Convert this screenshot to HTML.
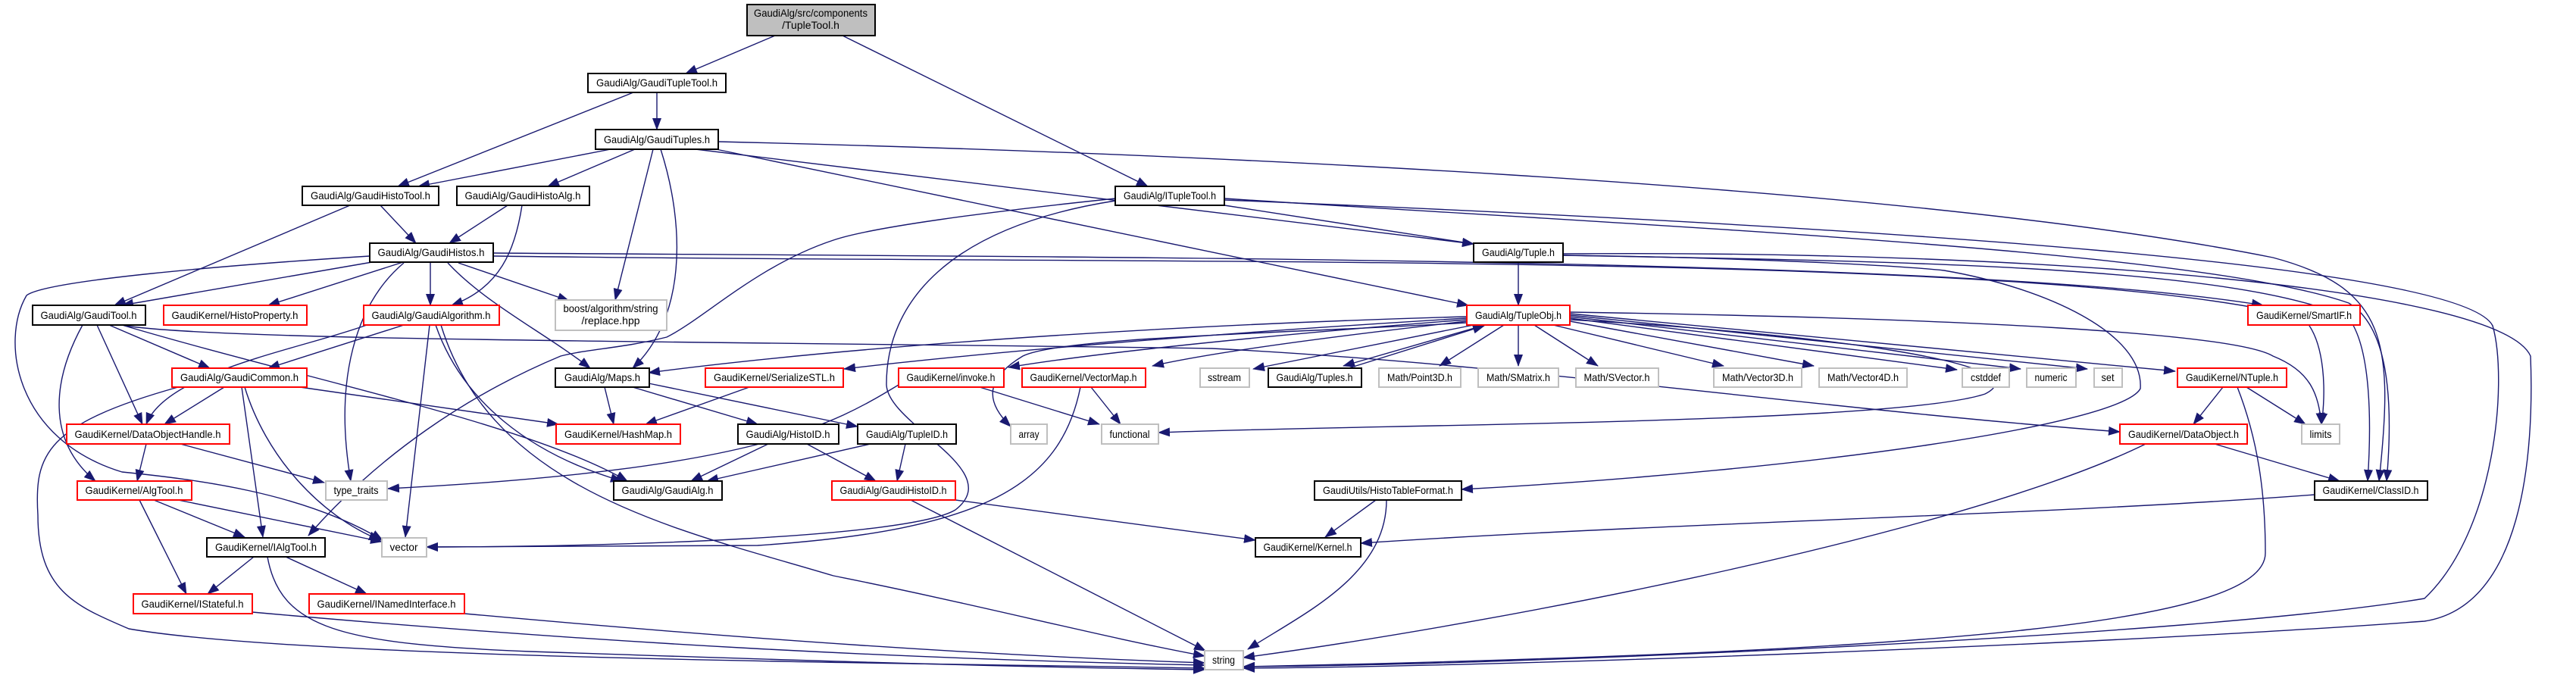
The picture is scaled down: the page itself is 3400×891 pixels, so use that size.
<!DOCTYPE html>
<html><head><meta charset="utf-8"><style>
html,body{margin:0;padding:0;background:#fff;}
svg{display:block;}
text{font-family:"Liberation Sans",sans-serif;font-size:14px;fill:#000;}
.b{fill:#fff;stroke:#000;stroke-width:2;}
.r{fill:#fff;stroke:#ff0000;stroke-width:2;}
.g{fill:#fff;stroke:#bfbfbf;stroke-width:2;}
.e{fill:none;stroke:#191970;stroke-width:1.4;}
</style></head><body>
<svg width="3400" height="891" viewBox="0 0 3400 891" xmlns="http://www.w3.org/2000/svg">
<defs><marker id="a" markerWidth="16" markerHeight="12" refX="15" refY="6" orient="auto" markerUnits="userSpaceOnUse"><path d="M0,0 L16,6 L0,12 z" fill="#191970"/></marker></defs>
<g class="edges">
<path class="e" d="M1023,47 L905,97" marker-end="url(#a)"/>
<path class="e" d="M1112,47 L1515,246" marker-end="url(#a)"/>
<path class="e" d="M836,122 L525,246" marker-end="url(#a)"/>
<path class="e" d="M867,122 L867,171" marker-end="url(#a)"/>
<path class="e" d="M806,197 L552,246" marker-end="url(#a)"/>
<path class="e" d="M838,197 L723,246" marker-end="url(#a)"/>
<path class="e" d="M862,197 L812,396" marker-end="url(#a)"/>
<path class="e" d="M872,197 C905,300 905,420 835,486" marker-end="url(#a)"/>
<path class="e" d="M948,187 C1500,200 2500,240 3000,340 C3150,380 3160,450 3140,635" marker-end="url(#a)"/>
<path class="e" d="M918,197 L1945,322" marker-end="url(#a)"/>
<path class="e" d="M945,197 L1938,403" marker-end="url(#a)"/>
<path class="e" d="M502,271 L549,321" marker-end="url(#a)"/>
<path class="e" d="M462,271 L151,403" marker-end="url(#a)"/>
<path class="e" d="M670,271 L593,321" marker-end="url(#a)"/>
<path class="e" d="M689,271 C680,330 660,380 596,403" marker-end="url(#a)"/>
<path class="e" d="M491,346 L161,403" marker-end="url(#a)"/>
<path class="e" d="M532,346 L354,403" marker-end="url(#a)"/>
<path class="e" d="M568,346 L568,403" marker-end="url(#a)"/>
<path class="e" d="M605,347 L751,397" marker-end="url(#a)"/>
<path class="e" d="M591,347 C640,400 720,440 779,486" marker-end="url(#a)"/>
<path class="e" d="M533,347 C470,400 440,500 463,635" marker-end="url(#a)"/>
<path class="e" d="M488,338 C300,350 60,370 35,390 C0,450 20,580 161,623 C260,633 400,650 505,713" marker-end="url(#a)"/>
<path class="e" d="M651,334 C1500,340 2600,340 2987,403" marker-end="url(#a)"/>
<path class="e" d="M651,338 C1500,350 2700,330 3040,420 C3070,450 3070,520 3064,560" marker-end="url(#a)"/>
<path class="e" d="M144,429 L277,486" marker-end="url(#a)"/>
<path class="e" d="M128,429 L188,560" marker-end="url(#a)"/>
<path class="e" d="M109,429 C70,500 60,580 126,635" marker-end="url(#a)"/>
<path class="e" d="M161,429 C400,500 700,560 828,635" marker-end="url(#a)"/>
<path class="e" d="M165,430 C300,450 900,450 1600,460 C2000,480 2400,540 2798,570" marker-end="url(#a)"/>
<path class="e" d="M533,429 L354,486" marker-end="url(#a)"/>
<path class="e" d="M484,429 C400,460 220,490 193,560" marker-end="url(#a)"/>
<path class="e" d="M567,429 L535,709" marker-end="url(#a)"/>
<path class="e" d="M575,429 C610,530 700,600 821,635" marker-end="url(#a)"/>
<path class="e" d="M582,429 C650,650 900,700 1100,760 C1300,800 1450,840 1590,866" marker-end="url(#a)"/>
<path class="e" d="M296,511 L217,560" marker-end="url(#a)"/>
<path class="e" d="M396,511 L737,560" marker-end="url(#a)"/>
<path class="e" d="M319,511 L347,709" marker-end="url(#a)"/>
<path class="e" d="M323,511 C350,600 420,680 502,713" marker-end="url(#a)"/>
<path class="e" d="M235,511 C60,560 45,600 50,680 C50,780 100,800 170,830 C400,870 1200,875 1590,882" marker-end="url(#a)"/>
<path class="e" d="M193,586 L181,635" marker-end="url(#a)"/>
<path class="e" d="M238,586 L428,637" marker-end="url(#a)"/>
<path class="e" d="M203,660 L323,709" marker-end="url(#a)"/>
<path class="e" d="M184,660 L246,784" marker-end="url(#a)"/>
<path class="e" d="M235,660 L504,715" marker-end="url(#a)"/>
<path class="e" d="M335,735 L274,784" marker-end="url(#a)"/>
<path class="e" d="M377,735 L484,784" marker-end="url(#a)"/>
<path class="e" d="M353,735 C370,830 450,850 700,860 C1000,870 1300,880 1590,884" marker-end="url(#a)"/>
<path class="e" d="M333,808 C800,850 1200,870 1590,878" marker-end="url(#a)"/>
<path class="e" d="M613,810 C1000,845 1300,865 1590,875" marker-end="url(#a)"/>
<path class="e" d="M798,511 L810,560" marker-end="url(#a)"/>
<path class="e" d="M835,511 L1000,560" marker-end="url(#a)"/>
<path class="e" d="M856,506 L1132,563" marker-end="url(#a)"/>
<path class="e" d="M989,511 L852,560" marker-end="url(#a)"/>
<path class="e" d="M1014,586 L912,635" marker-end="url(#a)"/>
<path class="e" d="M1065,586 L1156,635" marker-end="url(#a)"/>
<path class="e" d="M1149,586 L933,635" marker-end="url(#a)"/>
<path class="e" d="M1195,586 L1184,635" marker-end="url(#a)"/>
<path class="e" d="M1261,660 L1657,713" marker-end="url(#a)"/>
<path class="e" d="M1202,660 L1591,859" marker-end="url(#a)"/>
<path class="e" d="M1816,660 L1749,709" marker-end="url(#a)"/>
<path class="e" d="M1830,660 C1830,760 1720,810 1647,857" marker-end="url(#a)"/>
<path class="e" d="M1293,511 L1451,560" marker-end="url(#a)"/>
<path class="e" d="M1186,508 C1100,560 1000,620 512,645" marker-end="url(#a)"/>
<path class="e" d="M1440,511 L1479,560" marker-end="url(#a)"/>
<path class="e" d="M1426,511 C1400,640 1300,700 1000,720 C800,722 650,722 563,722" marker-end="url(#a)"/>
<path class="e" d="M2004,346 L2004,403" marker-end="url(#a)"/>
<path class="e" d="M2063,337 C2300,340 2500,350 2566,357 C2700,380 2830,440 2825,513 C2800,560 2400,620 1929,646" marker-end="url(#a)"/>
<path class="e" d="M2063,337 C2500,345 2950,350 3100,420 C3130,460 3130,560 3125,635" marker-end="url(#a)"/>
<path class="e" d="M2063,335 C2700,330 3300,380 3340,470 C3345,600 3330,800 3200,820 C2800,850 2000,880 1641,882" marker-end="url(#a)"/>
<path class="e" d="M1616,271 L1945,322" marker-end="url(#a)"/>
<path class="e" d="M1472,262 C1300,280 1150,300 1100,317 C1000,350 930,420 880,445 C820,460 780,460 740,470 C620,520 500,600 407,707" marker-end="url(#a)"/>
<path class="e" d="M1472,265 C1250,300 1170,400 1170,507 C1170,560 1330,620 1261,673 C1200,710 800,722 563,722" marker-end="url(#a)"/>
<path class="e" d="M1616,262 C2200,300 2900,330 3100,400 C3150,430 3160,520 3150,635" marker-end="url(#a)"/>
<path class="e" d="M1616,264 C2500,300 3250,350 3290,430 C3310,500 3295,700 3200,790 C2900,840 2000,878 1641,880" marker-end="url(#a)"/>
<path class="e" d="M1936,418 C1500,430 1100,460 856,492" marker-end="url(#a)"/>
<path class="e" d="M1936,420 C1600,440 1300,465 1114,487" marker-end="url(#a)"/>
<path class="e" d="M1936,422 C1700,440 1450,465 1331,485" marker-end="url(#a)"/>
<path class="e" d="M1936,424 C1750,445 1600,465 1521,483" marker-end="url(#a)"/>
<path class="e" d="M1945,429 L1654,487" marker-end="url(#a)"/>
<path class="e" d="M1960,429 L1773,483" marker-end="url(#a)"/>
<path class="e" d="M1780,486 L1959,430" marker-end="url(#a)"/>
<path class="e" d="M1985,429 L1900,483" marker-end="url(#a)"/>
<path class="e" d="M2004,429 L2004,483" marker-end="url(#a)"/>
<path class="e" d="M2025,429 L2109,483" marker-end="url(#a)"/>
<path class="e" d="M2050,429 L2275,483" marker-end="url(#a)"/>
<path class="e" d="M2072,424 L2394,483" marker-end="url(#a)"/>
<path class="e" d="M2072,420 L2583,488" marker-end="url(#a)"/>
<path class="e" d="M2072,418 L2667,487" marker-end="url(#a)"/>
<path class="e" d="M2072,416 L2755,487" marker-end="url(#a)"/>
<path class="e" d="M2072,414 L2871,490" marker-end="url(#a)"/>
<path class="e" d="M2072,412 C2600,420 2950,440 3000,470 C3050,490 3060,520 3064,560" marker-end="url(#a)"/>
<path class="e" d="M2072,422 C2400,440 2700,480 2620,520 C2500,560 1800,560 1529,571" marker-end="url(#a)"/>
<path class="e" d="M1936,426 C1700,440 1400,445 1350,470 C1300,500 1300,530 1334,563" marker-end="url(#a)"/>
<path class="e" d="M2934,511 L2895,560" marker-end="url(#a)"/>
<path class="e" d="M2965,511 L3043,560" marker-end="url(#a)"/>
<path class="e" d="M2953,511 C2980,580 2990,650 2990,730 C2990,820 2600,860 1641,880" marker-end="url(#a)"/>
<path class="e" d="M2923,586 L3088,635" marker-end="url(#a)"/>
<path class="e" d="M2832,586 C2600,700 2000,820 1641,868" marker-end="url(#a)"/>
<path class="e" d="M3055,653 C2700,680 2200,690 1796,717" marker-end="url(#a)"/>
</g>
<g>
<rect class="b" x="986" y="6" width="169" height="41" style="fill:#bfbfbf"/>
<text x="1070" y="22" text-anchor="middle" textLength="150" lengthAdjust="spacingAndGlyphs">GaudiAlg/src/components</text>
<text x="1070" y="38" text-anchor="middle">/TupleTool.h</text>

<rect class="b" x="776" y="97" width="182" height="25"/><text x="867" y="114" text-anchor="middle" textLength="160" lengthAdjust="spacingAndGlyphs">GaudiAlg/GaudiTupleTool.h</text>
<rect class="b" x="786" y="171" width="162" height="26"/><text x="867" y="189" text-anchor="middle" textLength="140" lengthAdjust="spacingAndGlyphs">GaudiAlg/GaudiTuples.h</text>
<rect class="b" x="399" y="246" width="180" height="25"/><text x="489" y="263" text-anchor="middle" textLength="158" lengthAdjust="spacingAndGlyphs">GaudiAlg/GaudiHistoTool.h</text>
<rect class="b" x="603" y="246" width="175" height="25"/><text x="690" y="263" text-anchor="middle" textLength="153" lengthAdjust="spacingAndGlyphs">GaudiAlg/GaudiHistoAlg.h</text>
<rect class="b" x="1472" y="246" width="144" height="25"/><text x="1544" y="263" text-anchor="middle" textLength="122" lengthAdjust="spacingAndGlyphs">GaudiAlg/ITupleTool.h</text>
<rect class="b" x="488" y="321" width="163" height="25"/><text x="569" y="338" text-anchor="middle" textLength="141" lengthAdjust="spacingAndGlyphs">GaudiAlg/GaudiHistos.h</text>
<rect class="b" x="1945" y="321" width="118" height="25"/><text x="2004" y="338" text-anchor="middle" textLength="96" lengthAdjust="spacingAndGlyphs">GaudiAlg/Tuple.h</text>

<rect class="b" x="43" y="403" width="149" height="26"/><text x="117" y="421" text-anchor="middle" textLength="127" lengthAdjust="spacingAndGlyphs">GaudiAlg/GaudiTool.h</text>
<rect class="r" x="216" y="403" width="189" height="26"/><text x="310" y="421" text-anchor="middle" textLength="167" lengthAdjust="spacingAndGlyphs">GaudiKernel/HistoProperty.h</text>
<rect class="r" x="480" y="403" width="179" height="26"/><text x="569" y="421" text-anchor="middle" textLength="157" lengthAdjust="spacingAndGlyphs">GaudiAlg/GaudiAlgorithm.h</text>
<rect class="g" x="733" y="396" width="147" height="40"/><text x="806" y="412" text-anchor="middle" textLength="125" lengthAdjust="spacingAndGlyphs">boost/algorithm/string</text><text x="806" y="428" text-anchor="middle">/replace.hpp</text>
<rect class="r" x="1936" y="403" width="136" height="26"/><text x="2004" y="421" text-anchor="middle" textLength="114" lengthAdjust="spacingAndGlyphs">GaudiAlg/TupleObj.h</text>
<rect class="r" x="2967" y="403" width="148" height="26"/><text x="3041" y="421" text-anchor="middle" textLength="126" lengthAdjust="spacingAndGlyphs">GaudiKernel/SmartIF.h</text>

<rect class="r" x="227" y="486" width="178" height="25"/><text x="316" y="503" text-anchor="middle" textLength="156" lengthAdjust="spacingAndGlyphs">GaudiAlg/GaudiCommon.h</text>
<rect class="b" x="733" y="486" width="124" height="25"/><text x="795" y="503" text-anchor="middle" textLength="100" lengthAdjust="spacingAndGlyphs">GaudiAlg/Maps.h</text>
<rect class="r" x="931" y="486" width="182" height="25"/><text x="1022" y="503" text-anchor="middle" textLength="160" lengthAdjust="spacingAndGlyphs">GaudiKernel/SerializeSTL.h</text>
<rect class="r" x="1186" y="486" width="139" height="25"/><text x="1255" y="503" text-anchor="middle" textLength="117" lengthAdjust="spacingAndGlyphs">GaudiKernel/invoke.h</text>
<rect class="r" x="1349" y="486" width="163" height="25"/><text x="1430" y="503" text-anchor="middle" textLength="141" lengthAdjust="spacingAndGlyphs">GaudiKernel/VectorMap.h</text>
<rect class="g" x="1584" y="486" width="65" height="25"/><text x="1616" y="503" text-anchor="middle" textLength="44" lengthAdjust="spacingAndGlyphs">sstream</text>
<rect class="b" x="1674" y="486" width="123" height="25"/><text x="1735" y="503" text-anchor="middle" textLength="101" lengthAdjust="spacingAndGlyphs">GaudiAlg/Tuples.h</text>
<rect class="g" x="1820" y="486" width="108" height="25"/><text x="1874" y="503" text-anchor="middle" textLength="86" lengthAdjust="spacingAndGlyphs">Math/Point3D.h</text>
<rect class="g" x="1951" y="486" width="106" height="25"/><text x="2004" y="503" text-anchor="middle" textLength="84" lengthAdjust="spacingAndGlyphs">Math/SMatrix.h</text>
<rect class="g" x="2080" y="486" width="109" height="25"/><text x="2134" y="503" text-anchor="middle" textLength="87" lengthAdjust="spacingAndGlyphs">Math/SVector.h</text>
<rect class="g" x="2262" y="486" width="116" height="25"/><text x="2320" y="503" text-anchor="middle" textLength="94" lengthAdjust="spacingAndGlyphs">Math/Vector3D.h</text>
<rect class="g" x="2401" y="486" width="116" height="25"/><text x="2459" y="503" text-anchor="middle" textLength="94" lengthAdjust="spacingAndGlyphs">Math/Vector4D.h</text>
<rect class="g" x="2590" y="486" width="62" height="25"/><text x="2621" y="503" text-anchor="middle" textLength="40" lengthAdjust="spacingAndGlyphs">cstddef</text>
<rect class="g" x="2675" y="486" width="65" height="25"/><text x="2707" y="503" text-anchor="middle" textLength="43" lengthAdjust="spacingAndGlyphs">numeric</text>
<rect class="g" x="2764" y="486" width="37" height="25"/><text x="2782" y="503" text-anchor="middle" textLength="17" lengthAdjust="spacingAndGlyphs">set</text>
<rect class="r" x="2874" y="486" width="144" height="25"/><text x="2946" y="503" text-anchor="middle" textLength="122" lengthAdjust="spacingAndGlyphs">GaudiKernel/NTuple.h</text>

<rect class="r" x="88" y="560" width="215" height="26"/><text x="195" y="578" text-anchor="middle" textLength="193" lengthAdjust="spacingAndGlyphs">GaudiKernel/DataObjectHandle.h</text>
<rect class="r" x="734" y="560" width="164" height="26"/><text x="816" y="578" text-anchor="middle" textLength="142" lengthAdjust="spacingAndGlyphs">GaudiKernel/HashMap.h</text>
<rect class="b" x="974" y="560" width="133" height="26"/><text x="1040" y="578" text-anchor="middle" textLength="111" lengthAdjust="spacingAndGlyphs">GaudiAlg/HistoID.h</text>
<rect class="b" x="1132" y="560" width="130" height="26"/><text x="1197" y="578" text-anchor="middle" textLength="108" lengthAdjust="spacingAndGlyphs">GaudiAlg/TupleID.h</text>
<rect class="g" x="1334" y="560" width="48" height="26"/><text x="1358" y="578" text-anchor="middle" textLength="27" lengthAdjust="spacingAndGlyphs">array</text>
<rect class="g" x="1454" y="560" width="75" height="26"/><text x="1491" y="578" text-anchor="middle" textLength="53" lengthAdjust="spacingAndGlyphs">functional</text>
<rect class="r" x="2798" y="560" width="168" height="26"/><text x="2882" y="578" text-anchor="middle" textLength="146" lengthAdjust="spacingAndGlyphs">GaudiKernel/DataObject.h</text>
<rect class="g" x="3038" y="560" width="50" height="26"/><text x="3063" y="578" text-anchor="middle" textLength="29" lengthAdjust="spacingAndGlyphs">limits</text>

<rect class="r" x="102" y="635" width="151" height="25"/><text x="177" y="652" text-anchor="middle" textLength="129" lengthAdjust="spacingAndGlyphs">GaudiKernel/AlgTool.h</text>
<rect class="g" x="430" y="635" width="81" height="25"/><text x="470" y="652" text-anchor="middle" textLength="59" lengthAdjust="spacingAndGlyphs">type_traits</text>
<rect class="b" x="810" y="635" width="143" height="25"/><text x="881" y="652" text-anchor="middle" textLength="121" lengthAdjust="spacingAndGlyphs">GaudiAlg/GaudiAlg.h</text>
<rect class="r" x="1098" y="635" width="163" height="25"/><text x="1179" y="652" text-anchor="middle" textLength="141" lengthAdjust="spacingAndGlyphs">GaudiAlg/GaudiHistoID.h</text>
<rect class="b" x="1735" y="635" width="194" height="25"/><text x="1832" y="652" text-anchor="middle" textLength="172" lengthAdjust="spacingAndGlyphs">GaudiUtils/HistoTableFormat.h</text>
<rect class="b" x="3055" y="635" width="149" height="25"/><text x="3129" y="652" text-anchor="middle" textLength="127" lengthAdjust="spacingAndGlyphs">GaudiKernel/ClassID.h</text>

<rect class="b" x="273" y="710" width="156" height="25"/><text x="351" y="727" text-anchor="middle" textLength="134" lengthAdjust="spacingAndGlyphs">GaudiKernel/IAlgTool.h</text>
<rect class="g" x="504" y="710" width="59" height="25"/><text x="533" y="727" text-anchor="middle" textLength="37" lengthAdjust="spacingAndGlyphs">vector</text>
<rect class="b" x="1657" y="710" width="139" height="25"/><text x="1726" y="727" text-anchor="middle" textLength="117" lengthAdjust="spacingAndGlyphs">GaudiKernel/Kernel.h</text>

<rect class="r" x="176" y="784" width="157" height="26"/><text x="254" y="802" text-anchor="middle" textLength="135" lengthAdjust="spacingAndGlyphs">GaudiKernel/IStateful.h</text>
<rect class="r" x="408" y="784" width="205" height="26"/><text x="510" y="802" text-anchor="middle" textLength="183" lengthAdjust="spacingAndGlyphs">GaudiKernel/INamedInterface.h</text>

<rect class="g" x="1590" y="859" width="51" height="25"/><text x="1615" y="876" text-anchor="middle" textLength="30" lengthAdjust="spacingAndGlyphs">string</text>
</g>
</svg>
</body></html>
